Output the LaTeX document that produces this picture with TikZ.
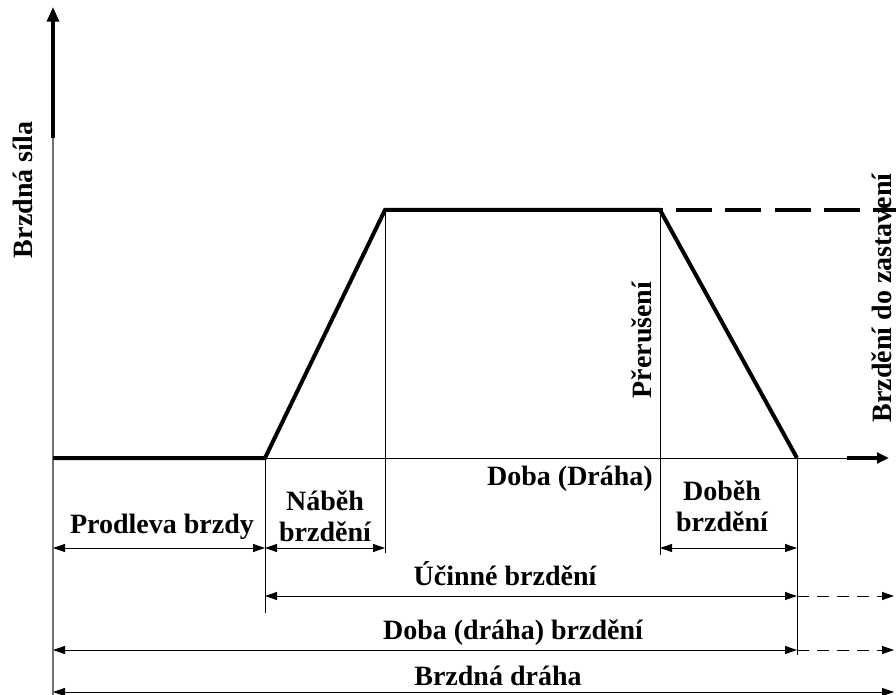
\documentclass[tikz,border=0pt]{standalone}
\usepackage{fontspec}
\setmainfont{Liberation Serif}
\usetikzlibrary{arrows.meta}

\tikzset{
  lbl/.style={font=\bfseries\fontsize{21}{23.5}\selectfont, align=center, inner sep=0pt},
  thinline/.style={line width=0.7pt, black},
  curve/.style={line width=3pt, black},
  dim/.style={line width=0.7pt, {Triangle[length=9pt,width=6pt]}-{Triangle[length=9pt,width=6pt]}},
  dimend/.style={line width=0.7pt, dash pattern=on 9pt off 6pt, -{Triangle[length=9pt,width=6pt]}}
}

\begin{document}
\begin{tikzpicture}[x=0.75pt,y=-0.75pt]
        \useasboundingbox (0,0) rectangle (896,695);

        % axis
        \coordinate (O) at (53,458);
        \coordinate (Ybot) at (53,695);
        \coordinate (Ymid) at (53,138);
        \coordinate (Ytop) at (53,7);
        \coordinate (Xmid) at (847,458);
        \coordinate (Xend) at (889,458);

        % curve
        \coordinate (A) at (265,458);
        \coordinate (B) at (385,210);
        \coordinate (C) at (660,210);
        \coordinate (D) at (797,458);
        \coordinate (E) at (896,210);

        % dimension rows
        \coordinate (P1) at (53,548);
        \coordinate (P2) at (265,548);
        \coordinate (P3) at (385,548);
        \coordinate (P4) at (660,548);
        \coordinate (P5) at (797,548);
        \coordinate (U1) at (265,596);
        \coordinate (U2) at (797,596);
        \coordinate (U3) at (894,596);
        \coordinate (T1) at (53,650);
        \coordinate (T2) at (797,650);
        \coordinate (T3) at (894,650);
        \coordinate (S1) at (53,692);
        \coordinate (S2) at (894,692);

        \draw[line width=1pt, black!55] (Ybot) -- (Ymid);
        \draw[line width=2.4pt, -{Triangle[length=11pt,width=9pt]}] (Ymid) -- (Ytop);
        \draw[thinline] (O) -- (Xmid);
        \draw[line width=2.4pt, -{Triangle[length=9pt,width=8pt]}] (Xmid) -- (Xend);

        % helper lines
        \draw[thinline] (B) -- (385,553);
        \draw[thinline] (C) -- (660,555);
        \draw[thinline] (D) -- (797,655);
        \draw[thinline] (A) -- (265,613);

        \draw[curve, line join=miter] (O) -- (A) -- (B) -- (C) -- (D);
        \draw[curve, dash pattern=on 27pt off 10pt, dash phase=-12pt] (C) -- (E);

        % dimensions
        \draw[dim] (P1) -- (P2);
        \draw[dim] (P2) -- (P3);
        \draw[dim] (P4) -- (P5);
        \draw[dim] (U1) -- (U2);
        \draw[dimend] (U2) -- (U3);
        \draw[dim] (T1) -- (T2);
        \draw[dimend] (T2) -- (T3);
        \draw[dim] (S1) -- (S2);

        % labels
        \node[lbl, rotate=90] (sila) at (23,190) {Brzdná síla};
        \node[lbl, rotate=90] (preruseni) at (642,340) {Přerušení};
        \node[lbl, rotate=90] (zastaveni) at (882,298) {Brzdění do zastavení};
        \node[lbl, anchor=base] (doba) at (570,485) {Doba (Dráha)};
        \node[lbl] (nabeh) at (325,516) {Náběh\\brzdění};
        \node[lbl, anchor=base] (prodleva) at (162,533) {Prodleva brzdy};
        \node[lbl] (dobeh) at (722,506) {Doběh\\brzdění};
        \node[lbl, anchor=base] (ucinne) at (505,585) {Účinné brzdění};
        \node[lbl, anchor=base] (dobabrz) at (513,639) {Doba (dráha) brzdění};
        \node[lbl, anchor=base] (draha) at (498,685) {Brzdná dráha};

    \end{tikzpicture}
\end{document}
